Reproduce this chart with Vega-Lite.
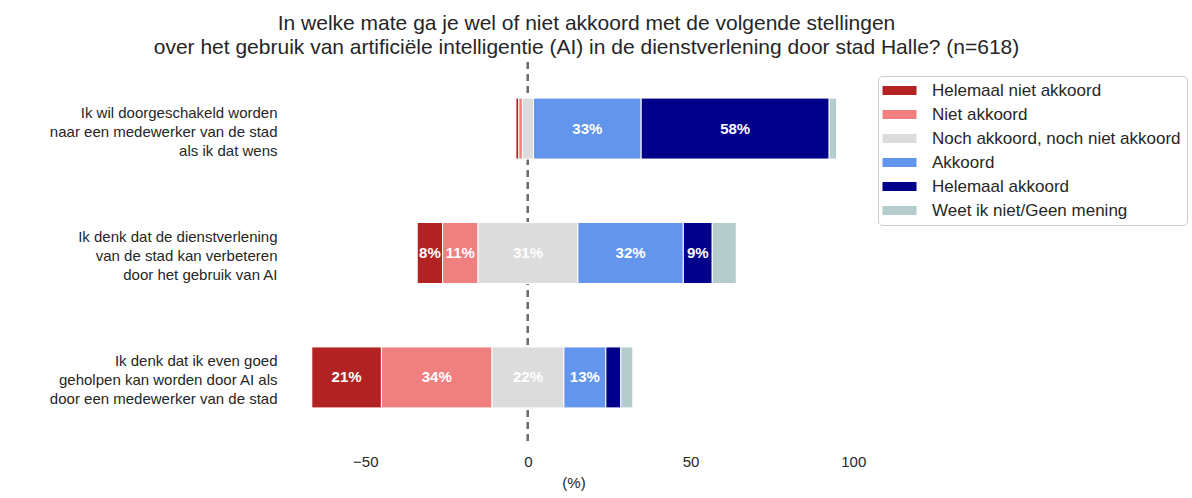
{
  "$schema": "https://vega.github.io/schema/vega-lite/v6.json",
  "width": 579,
  "height": 382,
  "autosize": {"type": "none"},
  "padding": {"left": 284, "top": 62, "right": 329, "bottom": 54},
  "background": "white",
  "config": {
    "view": {"stroke": null},
    "font": "Liberation Sans",
    "axis": {"domain": false, "ticks": false, "grid": false, "labelColor": "#262626", "titleColor": "#262626"}
  },
  "title": {
    "text": ["In welke mate ga je wel of niet akkoord met de volgende stellingen", "over het gebruik van artificiële intelligentie (AI) in de dienstverlening door stad Halle? (n=618)"],
    "fontSize": 21,
    "fontWeight": "normal",
    "color": "#262626",
    "anchor": "middle",
    "dx": 13,
    "offset": 3,
    "lineHeight": 24
  },
  "data": {
    "values": [
      {"q": "Ik wil doorgeschakeld worden|naar een medewerker van de stad|als ik dat wens", "cat": "Helemaal niet akkoord", "ord": 1, "pct": 0.9},
      {"q": "Ik wil doorgeschakeld worden|naar een medewerker van de stad|als ik dat wens", "cat": "Niet akkoord", "ord": 2, "pct": 1.1},
      {"q": "Ik wil doorgeschakeld worden|naar een medewerker van de stad|als ik dat wens", "cat": "Noch akkoord, noch niet akkoord", "ord": 3, "pct": 3.4},
      {"q": "Ik wil doorgeschakeld worden|naar een medewerker van de stad|als ik dat wens", "cat": "Akkoord", "ord": 4, "pct": 33.1},
      {"q": "Ik wil doorgeschakeld worden|naar een medewerker van de stad|als ik dat wens", "cat": "Helemaal akkoord", "ord": 5, "pct": 57.8},
      {"q": "Ik wil doorgeschakeld worden|naar een medewerker van de stad|als ik dat wens", "cat": "Weet ik niet/Geen mening", "ord": 6, "pct": 2.3},
      {"q": "Ik denk dat de dienstverlening|van de stad kan verbeteren|door het gebruik van AI", "cat": "Helemaal niet akkoord", "ord": 1, "pct": 7.8},
      {"q": "Ik denk dat de dienstverlening|van de stad kan verbeteren|door het gebruik van AI", "cat": "Niet akkoord", "ord": 2, "pct": 10.9},
      {"q": "Ik denk dat de dienstverlening|van de stad kan verbeteren|door het gebruik van AI", "cat": "Noch akkoord, noch niet akkoord", "ord": 3, "pct": 30.7},
      {"q": "Ik denk dat de dienstverlening|van de stad kan verbeteren|door het gebruik van AI", "cat": "Akkoord", "ord": 4, "pct": 32.4},
      {"q": "Ik denk dat de dienstverlening|van de stad kan verbeteren|door het gebruik van AI", "cat": "Helemaal akkoord", "ord": 5, "pct": 8.9},
      {"q": "Ik denk dat de dienstverlening|van de stad kan verbeteren|door het gebruik van AI", "cat": "Weet ik niet/Geen mening", "ord": 6, "pct": 7.4},
      {"q": "Ik denk dat ik even goed|geholpen kan worden door AI als|door een medewerker van de stad", "cat": "Helemaal niet akkoord", "ord": 1, "pct": 21.4},
      {"q": "Ik denk dat ik even goed|geholpen kan worden door AI als|door een medewerker van de stad", "cat": "Niet akkoord", "ord": 2, "pct": 34.0},
      {"q": "Ik denk dat ik even goed|geholpen kan worden door AI als|door een medewerker van de stad", "cat": "Noch akkoord, noch niet akkoord", "ord": 3, "pct": 22.1},
      {"q": "Ik denk dat ik even goed|geholpen kan worden door AI als|door een medewerker van de stad", "cat": "Akkoord", "ord": 4, "pct": 12.9},
      {"q": "Ik denk dat ik even goed|geholpen kan worden door AI als|door een medewerker van de stad", "cat": "Helemaal akkoord", "ord": 5, "pct": 4.6},
      {"q": "Ik denk dat ik even goed|geholpen kan worden door AI als|door een medewerker van de stad", "cat": "Weet ik niet/Geen mening", "ord": 6, "pct": 3.7}
    ]
  },
  "transform": [
    {"stack": "pct", "groupby": ["q"], "sort": [{"field": "ord", "order": "ascending"}], "as": ["s0", "s1"]},
    {"calculate": "datum.ord == 3 ? (datum.s0 + datum.s1) / 2 : 0", "as": "nmid"},
    {"joinaggregate": [{"op": "sum", "field": "nmid", "as": "shift"}], "groupby": ["q"]},
    {"calculate": "datum.s0 - datum.shift", "as": "x0"},
    {"calculate": "datum.s1 - datum.shift", "as": "x1"},
    {"calculate": "(datum.x0 + datum.x1) / 2", "as": "xm"},
    {"calculate": "format(datum.pct, '.0f') + '%'", "as": "lbl"}
  ],
  "layer": [
    {
      "mark": {"type": "rule", "color": "#6e6e6e", "strokeWidth": 2, "strokeDash": [7, 5]},
      "encoding": {"x": {"datum": 0, "type": "quantitative"}}
    },
    {
      "mark": {"type": "bar", "stroke": "white", "strokeWidth": 1},
      "encoding": {
        "y": {
          "field": "q", "type": "nominal", "sort": null,
          "scale": {"paddingInner": 0.51, "paddingOuter": 0.29},
          "axis": {"title": null, "labelFontSize": 15, "labelPadding": 7, "labelLimit": 0, "labelAlign": "right", "labelLineHeight": 19, "labelOffset": -16, "labelExpr": "split(datum.label, '|')"}
        },
        "x": {
          "field": "x0", "type": "quantitative",
          "scale": {"domain": [-75, 103], "nice": false, "zero": false},
          "axis": {"values": [-50, 0, 50, 100], "title": "(%)", "labelFontSize": 15, "labelPadding": 10, "titleFontSize": 15, "titleFontWeight": "normal", "titlePadding": 6}
        },
        "x2": {"field": "x1"},
        "color": {
          "field": "cat", "type": "nominal",
          "scale": {
            "domain": ["Helemaal niet akkoord", "Niet akkoord", "Noch akkoord, noch niet akkoord", "Akkoord", "Helemaal akkoord", "Weet ik niet/Geen mening"],
            "range": ["#b22222", "#f08080", "#dcdcdc", "#6495ed", "#00008b", "#b4cccb"]
          },
          "legend": {
            "title": null, "orient": "none", "legendX": 594, "legendY": 14,
            "symbolType": "M-3.4,-0.9H3.4V0.9H-3.4Z", "symbolSize": 100, "symbolStrokeWidth": 0,
            "symbolOffset": 7, "labelOffset": 24, "labelLimit": 0,
            "labelFontSize": 17, "labelColor": "#262626", "rowPadding": 6,
            "padding": 6, "strokeColor": "#cccccc", "fillColor": "white", "cornerRadius": 4
          }
        }
      }
    },
    {
      "transform": [{"filter": "datum.pct >= 5 && datum.ord != 6"}],
      "mark": {"type": "text", "color": "white", "fontWeight": "bold", "fontSize": 15},
      "encoding": {
        "y": {"field": "q", "type": "nominal", "sort": null},
        "x": {"field": "xm", "type": "quantitative"},
        "text": {"field": "lbl"}
      }
    }
  ]
}
